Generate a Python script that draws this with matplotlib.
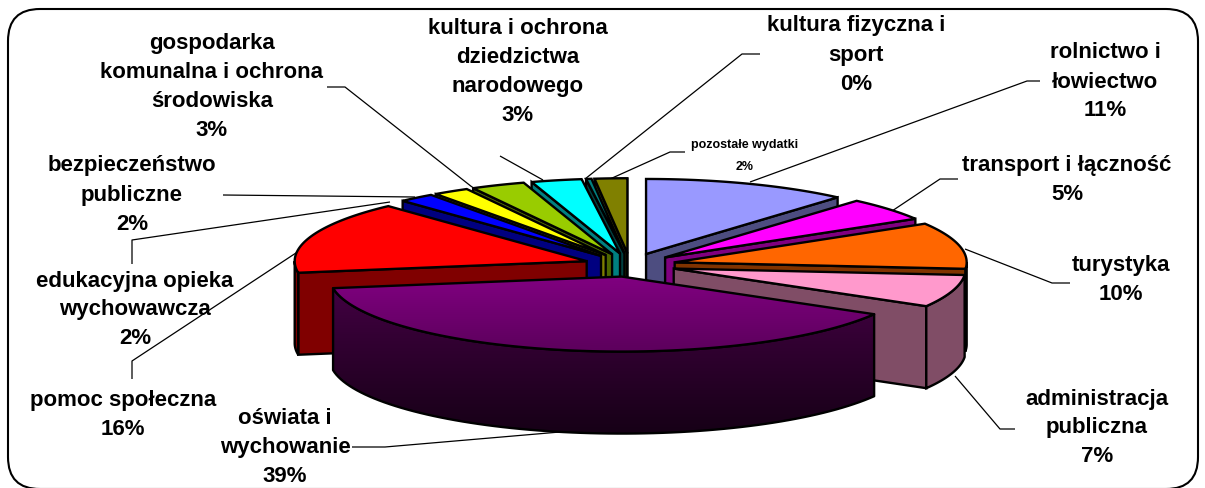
import numpy as np
import matplotlib
matplotlib.use("Agg")
import matplotlib.pyplot as plt
from matplotlib.patches import Polygon, FancyBboxPatch
from matplotlib.colors import to_rgb, LinearSegmentedColormap

# slices clockwise from 12 o'clock, percent
names = ["rolnictwo i\nłowiectwo", "transport i łączność", "turystyka",
         "administracja\npubliczna", "oświata i\nwychowanie", "pomoc społeczna",
         "edukacyjna opieka\nwychowawcza", "bezpieczeństwo\npubliczne",
         "gospodarka\nkomunalna i ochrona\nśrodowiska",
         "kultura i ochrona\ndziedzictwa\nnarodowego",
         "kultura fizyczna i\nsport", "pozostałe wydatki"]
values = [11.4, 5, 10, 7, 39.2, 15.6, 2, 2, 3, 2.8, 0.3, 1.8]
colors = ["#9999FF", "#FF00FF", "#FF6600", "#FF99CC", "#800080", "#FF0000",
          "#0000FF", "#FFFF00", "#99CC00", "#00FFFF", "#008080", "#808000"]

# label centres in pixels
label_x = [1105, 1067, 1121, 1097, 285, 123, 135, 132, 212, 518, 856, 745]
label_y = [82, 180, 280, 428, 448, 415, 310, 195, 87, 72, 55, 156]

# leader lines, one for each label
leaders = [[(1040, 82), (1027, 82), (750, 183)],
           [(958, 180), (940, 180), (892, 212)],
           [(1070, 284), (1052, 284), (965, 250)],
           [(1015, 430), (1000, 430), (955, 377)],
           [(352, 448), (385, 448), (560, 433)],
           [(132, 380), (132, 362), (302, 250)],
           [(132, 265), (132, 241), (390, 203)],
           [(223, 196), (415, 198)],
           [(327, 88), (345, 88), (472, 188)],
           [(500, 157), (543, 181)],
           [(760, 55), (742, 55), (585, 180)],
           [(685, 153), (670, 153), (610, 180)]]

CX, CY = 630, 266
RX, RY = 292, 75
DEPTH = 82
EXPLODE = 0.157
EDGE = 1.7

fig = plt.figure(figsize=(12.05, 4.89), dpi=100)
ax = fig.add_axes([0, 0, 1, 1])
ax.set_xlim(0, 1205)
ax.set_ylim(489, 0)
ax.axis("off")

ax.add_patch(FancyBboxPatch((38, 40), 1130, 420, boxstyle="round,pad=30,rounding_size=32",
                            fc="white", ec="black", lw=1.5, zorder=1))


def rim(ox, oy, a, b, n=80):
    t = np.radians(np.linspace(a, b, n))
    return np.column_stack([ox + RX * np.sin(t), oy - RY * np.cos(t)])


def gradient_fill(poly, c1, c2, z):
    cmap = LinearSegmentedColormap.from_list("g", [c1, c2])
    y0, y1 = poly[:, 1].min(), poly[:, 1].max()
    x0, x1 = poly[:, 0].min(), poly[:, 0].max()
    im = ax.imshow(np.linspace(0, 1, 200).reshape(-1, 1), cmap=cmap, aspect="auto",
                   extent=[x0, x1, y1, y0], zorder=z)
    p = Polygon(poly, closed=True, fc="none", ec="black", lw=EDGE, joinstyle="round", zorder=z + 0.1)
    ax.add_patch(p)
    im.set_clip_path(p)


def dark(c, f=0.5):
    return tuple(v * f for v in to_rgb(c))


fracs = np.array(values) / sum(values) * 360
ends = np.cumsum(fracs)
starts = ends - fracs
mids = (starts + ends) / 2

order = np.argsort(-np.cos(np.radians(mids)))
z = 3
for i in order:
    a, b, m = starts[i], ends[i], np.radians(mids[i])
    ox = CX + EXPLODE * RX * np.sin(m)
    oy = CY - EXPLODE * RY * np.cos(m)
    is_main = names[i].startswith("oświata")
    side = dark(colors[i])

    # radial walls that face the viewer
    for ang, vis in ((a, np.sin(np.radians(a)) < 0), (b, np.sin(np.radians(b)) > 0)):
        if vis:
            p = rim(ox, oy, ang, ang, 1)[0]
            wall = np.array([[ox, oy], p, p + [0, DEPTH], [ox, oy + DEPTH]])
            ax.add_patch(Polygon(wall, closed=True, fc=side, ec="black", lw=EDGE, zorder=z))
            z += 1

    # outer wall, front half only
    lo, hi = max(a, 90), min(b, 270)
    if lo < hi:
        arc = rim(ox, oy, lo, hi)
        wall = np.vstack([arc, arc[::-1] + [0, DEPTH]])
        if is_main:
            gradient_fill(wall, "#420042", "#160016", z)
        else:
            ax.add_patch(Polygon(wall, closed=True, fc=side, ec="black", lw=EDGE, zorder=z))
        z += 1

    top = np.vstack([[ox, oy], rim(ox, oy, a, b)])
    if is_main:
        gradient_fill(top, "#800080", "#5C005C", z)
    else:
        ax.add_patch(Polygon(top, closed=True, fc=colors[i], ec="black", lw=EDGE, zorder=z))
    z += 1

for line in leaders:
    pts = np.array(line)
    ax.plot(pts[:, 0], pts[:, 1], color="black", lw=0.9, zorder=2, solid_capstyle="butt")

ax.set_xlim(0, 1205)
ax.set_ylim(489, 0)

for i, name in enumerate(names):
    small = name.startswith("pozosta")
    ax.text(label_x[i], label_y[i], f"{name}\n{round(values[i])}%", ha="center", va="center",
            family="Liberation Sans", fontweight="bold", fontsize=9 if small else 16,
            linespacing=2.1 if small else 1.5, color="black", zorder=500)

fig.savefig("out.png", dpi=100)
